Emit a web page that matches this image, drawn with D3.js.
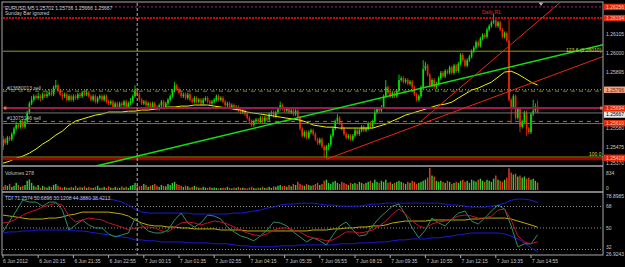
<!DOCTYPE html>
<html>
<head>
<meta charset="utf-8">
<script src="https://cdn.jsdelivr.net/npm/d3@7"></script>
<style>
  body { margin: 0; background: #000; }
  svg { display: block; font-family: "Liberation Sans", Arial, sans-serif; }
</style>
</head>
<body>
<svg id="chart"></svg>
<script>
// ---- data (candles in pips above BASE, one bar per 5 minutes from 6 Jun 18:55) ----
const BASE = 1.25;
const firstOpen = 48;
const closes = [
  52,50,53,52,55,58,60,59,62,59, 62,67,72,74,76,75,76,75,77,76,
  77,78,77,81,82,79,77,76,77,74, 76,74,76,75,77,76,78,77,78,76,
  74,76,73,75,76,74,76,73,72,73, 70,72,70,72,71,73,70,72,73,76,
  79,77,74,72,73,71,72,70,72,70, 69,71,73,70,72,74,76,79,82,80,
  78,76,77,75,77,74,73,75,73,74, 72,74,75,73,72,73,74,76,74,75,
  73,71,72,70,71,69,70,68,67,68, 66,64,62,60,62,63,62,64,62,64,
  63,66,67,65,67,69,71,69,68,69, 67,68,66,68,64,58,54,56,53,56,
  57,55,52,50,52,48,46,48,49,54, 58,62,64,61,58,55,53,54,52,54,
  57,55,57,59,57,58,61,59,62,67, 69,68,70,76,81,78,76,78,76,79,
  85,86,84,85,83,84,81,77,74,76, 81,91,93,88,82,85,81,83,86,89,
  87,90,89,92,89,93,90,94,99,96, 93,96,98,101,103,106,104,108,110,109,
  113,115,117,118,115,117,113,109,111,107, 74,70,76,64,69,59,62,67,58,56,
  66,68,70.2,66.7
];
const highs = [
  54,53,54,54,56,59,62,61,63,63, 63,68,73,76,77,77,78,77,78,78,
  79,80,79,82,85,83,80,78,78,78, 77,77,77,77,78,78,79,79,80,79,
  77,77,77,76,77,77,77,77,74,74, 74,73,73,73,73,74,74,73,75,77,
  82,80,78,75,74,74,73,73,73,73, 71,72,74,74,73,75,77,80,84,83,
  81,79,78,78,78,78,75,76,76,75, 75,75,76,76,74,74,75,77,77,76,
  76,74,73,73,72,72,71,71,69,69, 69,67,65,63,63,64,64,65,65,65,
  65,67,68,68,68,70,73,72,70,70, 70,69,69,69,69,65,59,57,57,57,
  58,58,56,53,53,53,49,49,50,55, 59,63,66,65,62,59,56,55,55,55,
  58,58,58,60,60,59,62,62,63,69, 70,70,71,77,85,82,79,79,79,80,
  88,87,87,86,86,85,85,82,78,77, 82,96,95,94,89,86,86,84,87,90,
  90,91,91,93,93,94,94,95,100,100, 97,97,99,102,104,107,107,109,111,111,
  114,116,118,122,119,118,118,114,112,112, 119,75,77,77,70,70,63,68,68,59,
  67,74,72,73.6
];
const lows = [
  46,49,49,51,51,54,57,58,58,58, 58,61,66,71,73,74,74,73,74,75,
  75,76,76,76,80,78,76,74,75,73, 73,73,73,74,74,75,75,76,76,75,
  73,73,72,72,74,73,73,72,71,71, 69,69,69,69,70,70,69,69,71,72,
  75,76,73,71,71,70,70,69,69,69, 68,68,70,69,69,71,73,75,78,79,
  77,75,75,74,74,73,72,72,72,72, 71,71,73,72,71,71,72,73,73,73,
  72,70,70,69,69,68,68,67,66,66, 65,63,61,59,59,61,61,61,61,61,
  62,62,65,64,64,66,68,68,67,67, 66,66,65,65,63,57,53,53,52,52,
  55,54,51,49,49,47,42,41,46,48, 53,57,61,60,57,54,52,52,51,51,
  53,54,54,56,56,56,57,58,58,61, 66,67,67,69,75,77,75,75,75,75,
  78,84,83,83,82,82,80,76,73,73, 75,80,90,87,81,81,80,80,82,85,
  86,86,88,88,88,88,89,89,93,95, 92,92,95,97,100,102,103,103,107,108,
  108,112,114,116,114,114,112,108,108,106, 73,61,69,63,63,56,58,61,54,55,
  55,65,67,66.6
];
const volumes = [
  120,190,160,230,120,160,270,190,120,160, 190,350,400,270,160,120,190,80,160,120,
  90,140,120,190,230,160,120,80,120,90, 80,120,90,160,80,120,90,140,80,120,
  90,80,120,160,80,90,120,80,140,90, 80,120,90,80,140,90,120,80,160,190,
  270,190,140,160,230,190,120,160,190,230, 160,120,190,160,140,230,190,270,310,230,
  190,160,120,160,140,90,120,160,120,90, 80,120,90,80,120,80,90,80,60,80,
  90,80,120,80,60,90,80,120,80,90, 80,60,90,120,80,60,90,80,120,80,
  90,120,80,140,120,160,190,140,160,120, 190,140,230,190,310,230,190,160,230,190,
  160,190,230,270,190,230,350,390,270,230, 310,350,270,230,310,270,230,190,270,230,
  270,230,310,270,230,270,310,350,270,390, 310,270,350,310,390,270,310,230,270,310,
  350,310,270,230,310,270,350,310,230,270, 310,350,390,470,834,550,510,350,310,350,
  310,270,350,310,230,270,310,270,350,390, 310,350,270,390,350,310,390,430,350,310,
  390,350,310,430,550,390,350,310,390,470, 820,660,590,620,510,550,470,510,430,470,
  390,430,350,278
];

// indicator samples, one every 3 bars
const sampleStep = 3;
const maPips = [
  38.8,39.9,41.6,42.7,44.4,46.6,49.4,51.6,54.4,56.6,
  59.9,62.2,63.3,64.4,65.5,66.1,67.2,67.2,67.2,67.7,
  67.7,68.3,68.3,68.8,69.4,70,70,70.5,70.5,71.1,
  71.1,71.1,70.5,70,69.4,68.8,68.3,67.2,66.6,66.1,
  65.5,65,64.4,63.8,63.3,62.7,61.6,60,59.4,58.8,
  58.8,58.3,58.3,58.3,58.3,58.3,58.3,59.4,60.5,62.2,
  63.8,65.5,66.6,67.7,68.8,70,71.1,71.6,72.7,75,
  77.2,79.4,80.5,82.2,83.8,86.6,89.4,89.9,88.3,86.1,
  83.8,82.2
];
const tdiUpper = [
  77.5,76.7,76,75.8,75.8,75.8,75.8,75.8,75.8,75.8,
  75.8,75,75,75,74.2,74.2,74.2,73.3,71.7,69.2,
  65.8,63.3,62.5,62.5,62.5,62.5,62.5,62.5,62.5,61.7,
  61.7,61.7,61.7,61.7,61.7,62.5,62.5,63.3,64.2,65,
  66.7,67.5,69.2,70,70,70.8,70.8,70.8,70,69.2,
  69.2,68.3,68.3,68.3,68.3,69.2,70,70,70.8,70.8,
  70.8,70.8,70.8,70.8,70.8,70.8,70.8,70,69.2,69.2,
  68.3,67.5,67.5,67.5,68.3,69.2,70.8,73.3,74.2,74.2,
  73.3,71.2574
];
const tdiMid = [
  60.8,60,59.2,58.3,57.5,57.5,57.5,58.3,58.3,59.2,
  60.8,61.7,63.3,63.3,63.3,63.3,63.3,62.5,61.7,60,
  56.7,54.2,52.5,51.7,51.7,50.8,50.8,50,50,49.2,
  49.2,49.2,49.2,48.3,48.3,48.3,48.3,47.5,47.5,47.5,
  47.5,47.5,47.5,47.5,47.5,47.5,47.5,48.3,48.3,48.3,
  49.2,49.2,50,50,50.8,50.8,51.7,51.7,52.5,54.2,
  55,55.8,55.8,55.8,55.8,56.7,56.7,56.7,56.7,56.7,
  56.7,57.5,57.5,58.3,58.3,58.3,58.3,57.5,55.8,54.2,
  52.5,50.6896
];
const tdiLower = [
  45.8,46.7,46.7,47.5,47.5,48.3,48.3,48.3,48.3,48.3,
  48.3,47.5,47.5,46.7,45.8,45,44.2,43.3,42.5,41.7,
  40,40,39.2,39.2,38.3,38.3,38.3,38.3,37.5,37.5,
  37.5,37.5,36.7,36.7,36.7,35.8,35,35,34.2,34.2,
  34.2,34.2,35,35,35,35.8,35.8,35.8,35.8,35.8,
  35.8,36.7,36.7,36.7,37.5,37.5,37.5,38.3,38.3,39.2,
  40,40,40.8,40.8,40.8,41.7,41.7,42.5,43.3,44.2,
  45,45.8,45.8,45.8,45.8,45.8,45,43.3,40.8,37.5,
  33.3,30.1208
];
const tdiRsi = [
  46.7,55.8,64.2,73.3,71.7,71.7,68.3,71.7,71.7,65,
  48.3,52.5,56.7,52.5,50,50,45,42.5,44.2,45.8,
  58.3,52.5,47.5,45.8,45.8,48.3,56.7,62.5,54.2,50.8,
  54.2,60.8,60,57.5,50.8,46.7,43.3,41.7,39.2,43.3,
  48.3,55,54.2,51.7,46.7,42.5,38.3,41.7,39.2,35.8,
  44.2,51.7,55,48.3,43.3,44.2,51.7,58.3,63.3,68.3,
  70,60.8,50,41.7,48.3,58.3,54.2,51.7,57.5,62.5,
  64.2,55.8,53.3,58.3,64.2,69.2,65.8,51.7,34.2,36.7,
  36.7,44.388
];
const tdiSignal = [
  54.2,55,57.5,60.8,63.3,65,67.5,69.2,70.8,69.2,
  60,55,56.7,58.3,57.5,56.7,54.2,52.5,50.8,48.3,
  50,50.8,50.8,50,47.5,46.7,50.8,54.2,55,54.2,
  52.5,54.2,55.8,55,53.3,50.8,48.3,45.8,44.2,43.3,
  45,48.3,50,50,48.3,46.7,43.3,41.7,40.8,39.2,
  40,43.3,46.7,46.7,45.8,46.7,48.3,51.7,55.8,61.7,
  65.8,61.7,55.8,51.7,50,53.3,55,55.8,57.5,60,
  60.8,60,58.3,58.3,60,65,65.8,56.7,43.3,38.3,
  36.7,38.4213
];
const tdiLevels = [68, 50, 32];

// axes
const priceTicks = [1.26105, 1.26000, 1.25895, 1.25790, 1.25685, 1.25580, 1.25475, 1.25370];
const timeTickBars = [0, 16, 32, 48, 64, 80, 96, 112, 128, 144, 160, 176, 192, 208, 224, 240];
const timeLabels = ["6 Jun 2012", "6 Jun 20:15", "6 Jun 21:35", "6 Jun 22:55", "7 Jun 00:15",
  "7 Jun 01:35", "7 Jun 02:55", "7 Jun 04:15", "7 Jun 05:35", "7 Jun 06:55", "7 Jun 08:15",
  "7 Jun 09:35", "7 Jun 10:55", "7 Jun 12:15", "7 Jun 13:35", "7 Jun 14:55"];
const daySplitBar = 61;

// objects on the price chart
const levelPrices = [1.26256, 1.26194, 1.26010, 1.25796, 1.25788, 1.25694, 1.25667, 1.25620, 1.25608, 1.25422, 1.25411];
const levelKinds = ["hiDot", "r1", "fibo", "orderDot", "orderDash", "thick", "bid", "orderDash", "stop", "fibo", "low"];
const trendBars = [[42.3, 200], [147, 244], [189.5, 254.5]];
const trendPrices = [[1.25372, 1.25833], [1.25410, 1.25850], [1.25616, 1.26294]];
const trendKinds = ["green", "red", "red"];
const axisMarkPrices = [1.26256, 1.26194, 1.25796, 1.25667, 1.25694, 1.25610, 1.25418];
const axisMarkKinds = ["red", "red", "salmon", "white", "red", "red", "red"];

// ---- layout ----
const W = 625, H = 267;
const L = 3, R = 603;
const mainTop = 3, mainBot = 165.5;
const volTop = 166.5, volBot = 191;
const tdiTop = 192.5, tdiBot = 255;

const svg = d3.select("#chart").attr("width", W).attr("height", H);
svg.append("rect").attr("width", W).attr("height", H).attr("fill", "#000");

const x = d3.scaleLinear().domain([0, 243]).range([3, 537.6]);
const y = d3.scaleLinear().domain([1.26, 1.25475]).range([53, 147.5]);
const yVol = d3.scaleLinear().domain([0, 834]).range([190, 168]);
const yTdi = d3.scaleLinear().domain([26.9243, 78.8985]).range([255.5, 193.5]);
const px = v => BASE + v / 1e4;

const defs = svg.append("defs");
function clip(id, y0, y1) {
  defs.append("clipPath").attr("id", id)
    .append("rect").attr("x", L).attr("y", y0).attr("width", R - L).attr("height", y1 - y0);
}
clip("cMain", mainTop, mainBot);
clip("cVol", volTop, volBot);
clip("cTdi", tdiTop, tdiBot);

const main = svg.append("g").attr("clip-path", "url(#cMain)");
const vol = svg.append("g").attr("clip-path", "url(#cVol)");
const tdi = svg.append("g").attr("clip-path", "url(#cTdi)");

// ---- candles ----
const bars = closes.map((c, i) => ({ i, o: i ? closes[i - 1] : firstOpen, h: highs[i], l: lows[i], c }));
const up = d => d.c >= d.o;
const bull = "#00e600", bear = "#f02800";

main.append("g").selectAll("line").data(bars).join("line")
  .attr("x1", d => x(d.i)).attr("x2", d => x(d.i))
  .attr("y1", d => y(px(d.h))).attr("y2", d => y(px(d.l)))
  .attr("stroke", d => up(d) ? bull : bear).attr("stroke-width", 0.9);

main.append("g").selectAll("rect").data(bars).join("rect")
  .attr("x", d => x(d.i) - 0.8).attr("width", 1.6)
  .attr("y", d => y(px(Math.max(d.o, d.c))))
  .attr("height", d => Math.max(0.8, y(px(Math.min(d.o, d.c))) - y(px(Math.max(d.o, d.c)))))
  .attr("fill", d => up(d) ? bull : bear);

// moving average
main.append("path").datum(maPips)
  .attr("d", d3.line().x((d, k) => x(k * sampleStep)).y(d => y(px(d))))
  .attr("fill", "none").attr("stroke", "#f2f200").attr("stroke-width", 1);

// horizontal levels
const levelStyle = {
  hiDot: { c: "#a0207a", w: 1, dash: "2,2" },
  r1: { c: "#ff1010", w: 1.5, dash: "2,1" },
  fibo: { c: "#9a9a10", w: 1, dash: null },
  orderDot: { c: "#c8a070", w: 1, dash: "1,2" },
  orderDash: { c: "#5a9a20", w: 1, dash: "4,4" },
  thick: { c: "#9a1a52", w: 2, dash: null },
  bid: { c: "#6a7a70", w: 1, dash: null },
  stop: { c: "#e04a10", w: 1, dash: null },
  low: { c: "#a00000", w: 2.5, dash: null }
};
levelPrices.forEach((p, k) => {
  const s = levelStyle[levelKinds[k]];
  main.append("line").attr("x1", L).attr("x2", R).attr("y1", y(p)).attr("y2", y(p))
    .attr("stroke", s.c).attr("stroke-width", s.w).attr("stroke-dasharray", s.dash);
});
[L + 1, R - 3].forEach(xx => main.append("rect").attr("x", xx).attr("y", y(1.25694) - 1.5)
  .attr("width", 2.5).attr("height", 3).attr("fill", "#ff6a20"));

// trend lines (rays to the right)
trendBars.forEach((b, k) => {
  const x1 = x(b[0]), y1 = y(trendPrices[k][0]);
  const x2 = x(b[1]), y2 = y(trendPrices[k][1]);
  const slope = (y2 - y1) / (x2 - x1);
  main.append("line").attr("x1", x1).attr("y1", y1).attr("x2", R).attr("y2", y1 + slope * (R - x1))
    .attr("stroke", trendKinds[k] === "green" ? "#10e010" : "#e82a10")
    .attr("stroke-width", trendKinds[k] === "green" ? 1.5 : 1);
});

// texts on the price chart
const txt = (g, xx, yy, s, fill) => g.append("text").attr("x", xx).attr("y", yy)
  .attr("font-size", 5).attr("fill", fill).text(s);
txt(svg, 5, 9.5, "EURUSD,M5  1.25702 1.25736 1.25666 1.25667", "#c8c8c8");
txt(svg, 5, 15, "Sunday Bar ignored", "#c8c8c8");
txt(main, 482, 14, "Daily R1", "#e02828");
txt(main, 566, 52, "123.6 (1.26010)", "#d8d840");
txt(main, 589, 156, "100.0", "#d8d840");
txt(main, 7, 90, "#13680013 sell", "#c0c0c0");
txt(main, 7, 120, "#13075146 sell", "#c0c0c0");

// ---- volumes ----
vol.append("g").selectAll("rect").data(bars).join("rect")
  .attr("x", d => x(d.i) - 0.7).attr("width", 1.4)
  .attr("y", d => yVol(volumes[d.i]))
  .attr("height", d => yVol(0) - yVol(volumes[d.i]))
  .attr("fill", d => up(d) ? "#2ed02e" : "#e8401a");
txt(svg, 5, 174.5, "Volumes 278", "#c0c0c0");

// ---- TDI ----
tdiLevels.forEach(v => tdi.append("line").attr("x1", L).attr("x2", R)
  .attr("y1", yTdi(v)).attr("y2", yTdi(v))
  .attr("stroke", "#909090").attr("stroke-width", 1).attr("stroke-dasharray", "1,2"));
const tdiLine = d3.line().x((d, k) => x(k * sampleStep)).y(d => yTdi(d));
[[tdiUpper, "#1a1ad8"], [tdiLower, "#1a1ad8"], [tdiMid, "#c0ac00"], [tdiRsi, "#2e8e60"], [tdiSignal, "#c81028"]]
  .forEach(([s, c]) => tdi.append("path").datum(s).attr("d", tdiLine)
    .attr("fill", "none").attr("stroke", c).attr("stroke-width", 1));
txt(svg, 5, 200, "TDI 71.2574 50.6896 30.1208 44.3880 38.4213", "#c0c0c0");

// ---- frame, separators ----
const grey = "#a8a8a8";
svg.append("line").attr("x1", x(daySplitBar)).attr("x2", x(daySplitBar)).attr("y1", 3).attr("y2", tdiBot)
  .attr("stroke", "#b0b0b0").attr("stroke-dasharray", "3,2").attr("stroke-width", 1);
svg.append("rect").attr("x", 2).attr("y", 2).attr("width", R - 2).attr("height", tdiBot - 2)
  .attr("fill", "none").attr("stroke", grey).attr("stroke-width", 1);
[166, 192].forEach(yy => svg.append("line").attr("x1", 2).attr("x2", R).attr("y1", yy).attr("y2", yy)
  .attr("stroke", grey).attr("stroke-width", 1.6));
svg.append("path").attr("d", "M538.5,2.5L543.5,2.5L541,6Z").attr("fill", "#b0b0b0");

// ---- right axis ----
// scale labels that the price boxes cover completely are not drawn
const markY = axisMarkPrices.map(p => y(p));
const ax = svg.append("g").attr("font-size", 5).attr("fill", "#c8c8c8");
priceTicks.filter(p => !markY.some(m => Math.abs(m - y(p)) < 3))
  .forEach(p => ax.append("text").attr("x", 606).attr("y", Math.min(y(p), 163) + 1.8).text(p.toFixed(5)));
ax.append("text").attr("x", 606).attr("y", 175).text("834");
ax.append("text").attr("x", 606).attr("y", 189.5).text("0");
ax.append("text").attr("x", 606).attr("y", 197.5).text("78.8985");
ax.append("text").attr("x", 606).attr("y", yTdi(68) + 1.8).text("68");
ax.append("text").attr("x", 606).attr("y", yTdi(50) + 1.8).text("50");
ax.append("text").attr("x", 606).attr("y", yTdi(32) - 0.2).text("32");
ax.append("text").attr("x", 606).attr("y", 255.5).text("26.9243");

const markStyle = {
  red: { bg: "#e02a08", fg: "#ffc8b8" },
  salmon: { bg: "#f2a484", fg: "#7a1a00" },
  white: { bg: "#e8e8e8", fg: "#000" }
};
axisMarkPrices.forEach((p, k) => {
  const s = markStyle[axisMarkKinds[k]];
  // the bid label sits just under the red order box, as in the terminal
  const yy = axisMarkKinds[k] === "white" ? y(p) + 1.6 : Math.min(y(p), 161);
  svg.append("rect").attr("x", 604).attr("y", yy - 3.2).attr("width", 21).attr("height", 6.4).attr("fill", s.bg);
  svg.append("text").attr("x", 606).attr("y", yy + 1.8).attr("font-size", 5).attr("fill", s.fg).text(p.toFixed(5));
});

// ---- time axis ----
const tx = svg.append("g");
timeTickBars.forEach((b, k) => {
  tx.append("line").attr("x1", x(b)).attr("x2", x(b)).attr("y1", tdiBot).attr("y2", tdiBot + 3)
    .attr("stroke", grey);
  tx.append("text").attr("x", x(b) + (k ? 1 : 0)).attr("y", 263).attr("font-size", 5)
    .attr("fill", "#c8c8c8").text(timeLabels[k]);
});
</script>
</body>
</html>
